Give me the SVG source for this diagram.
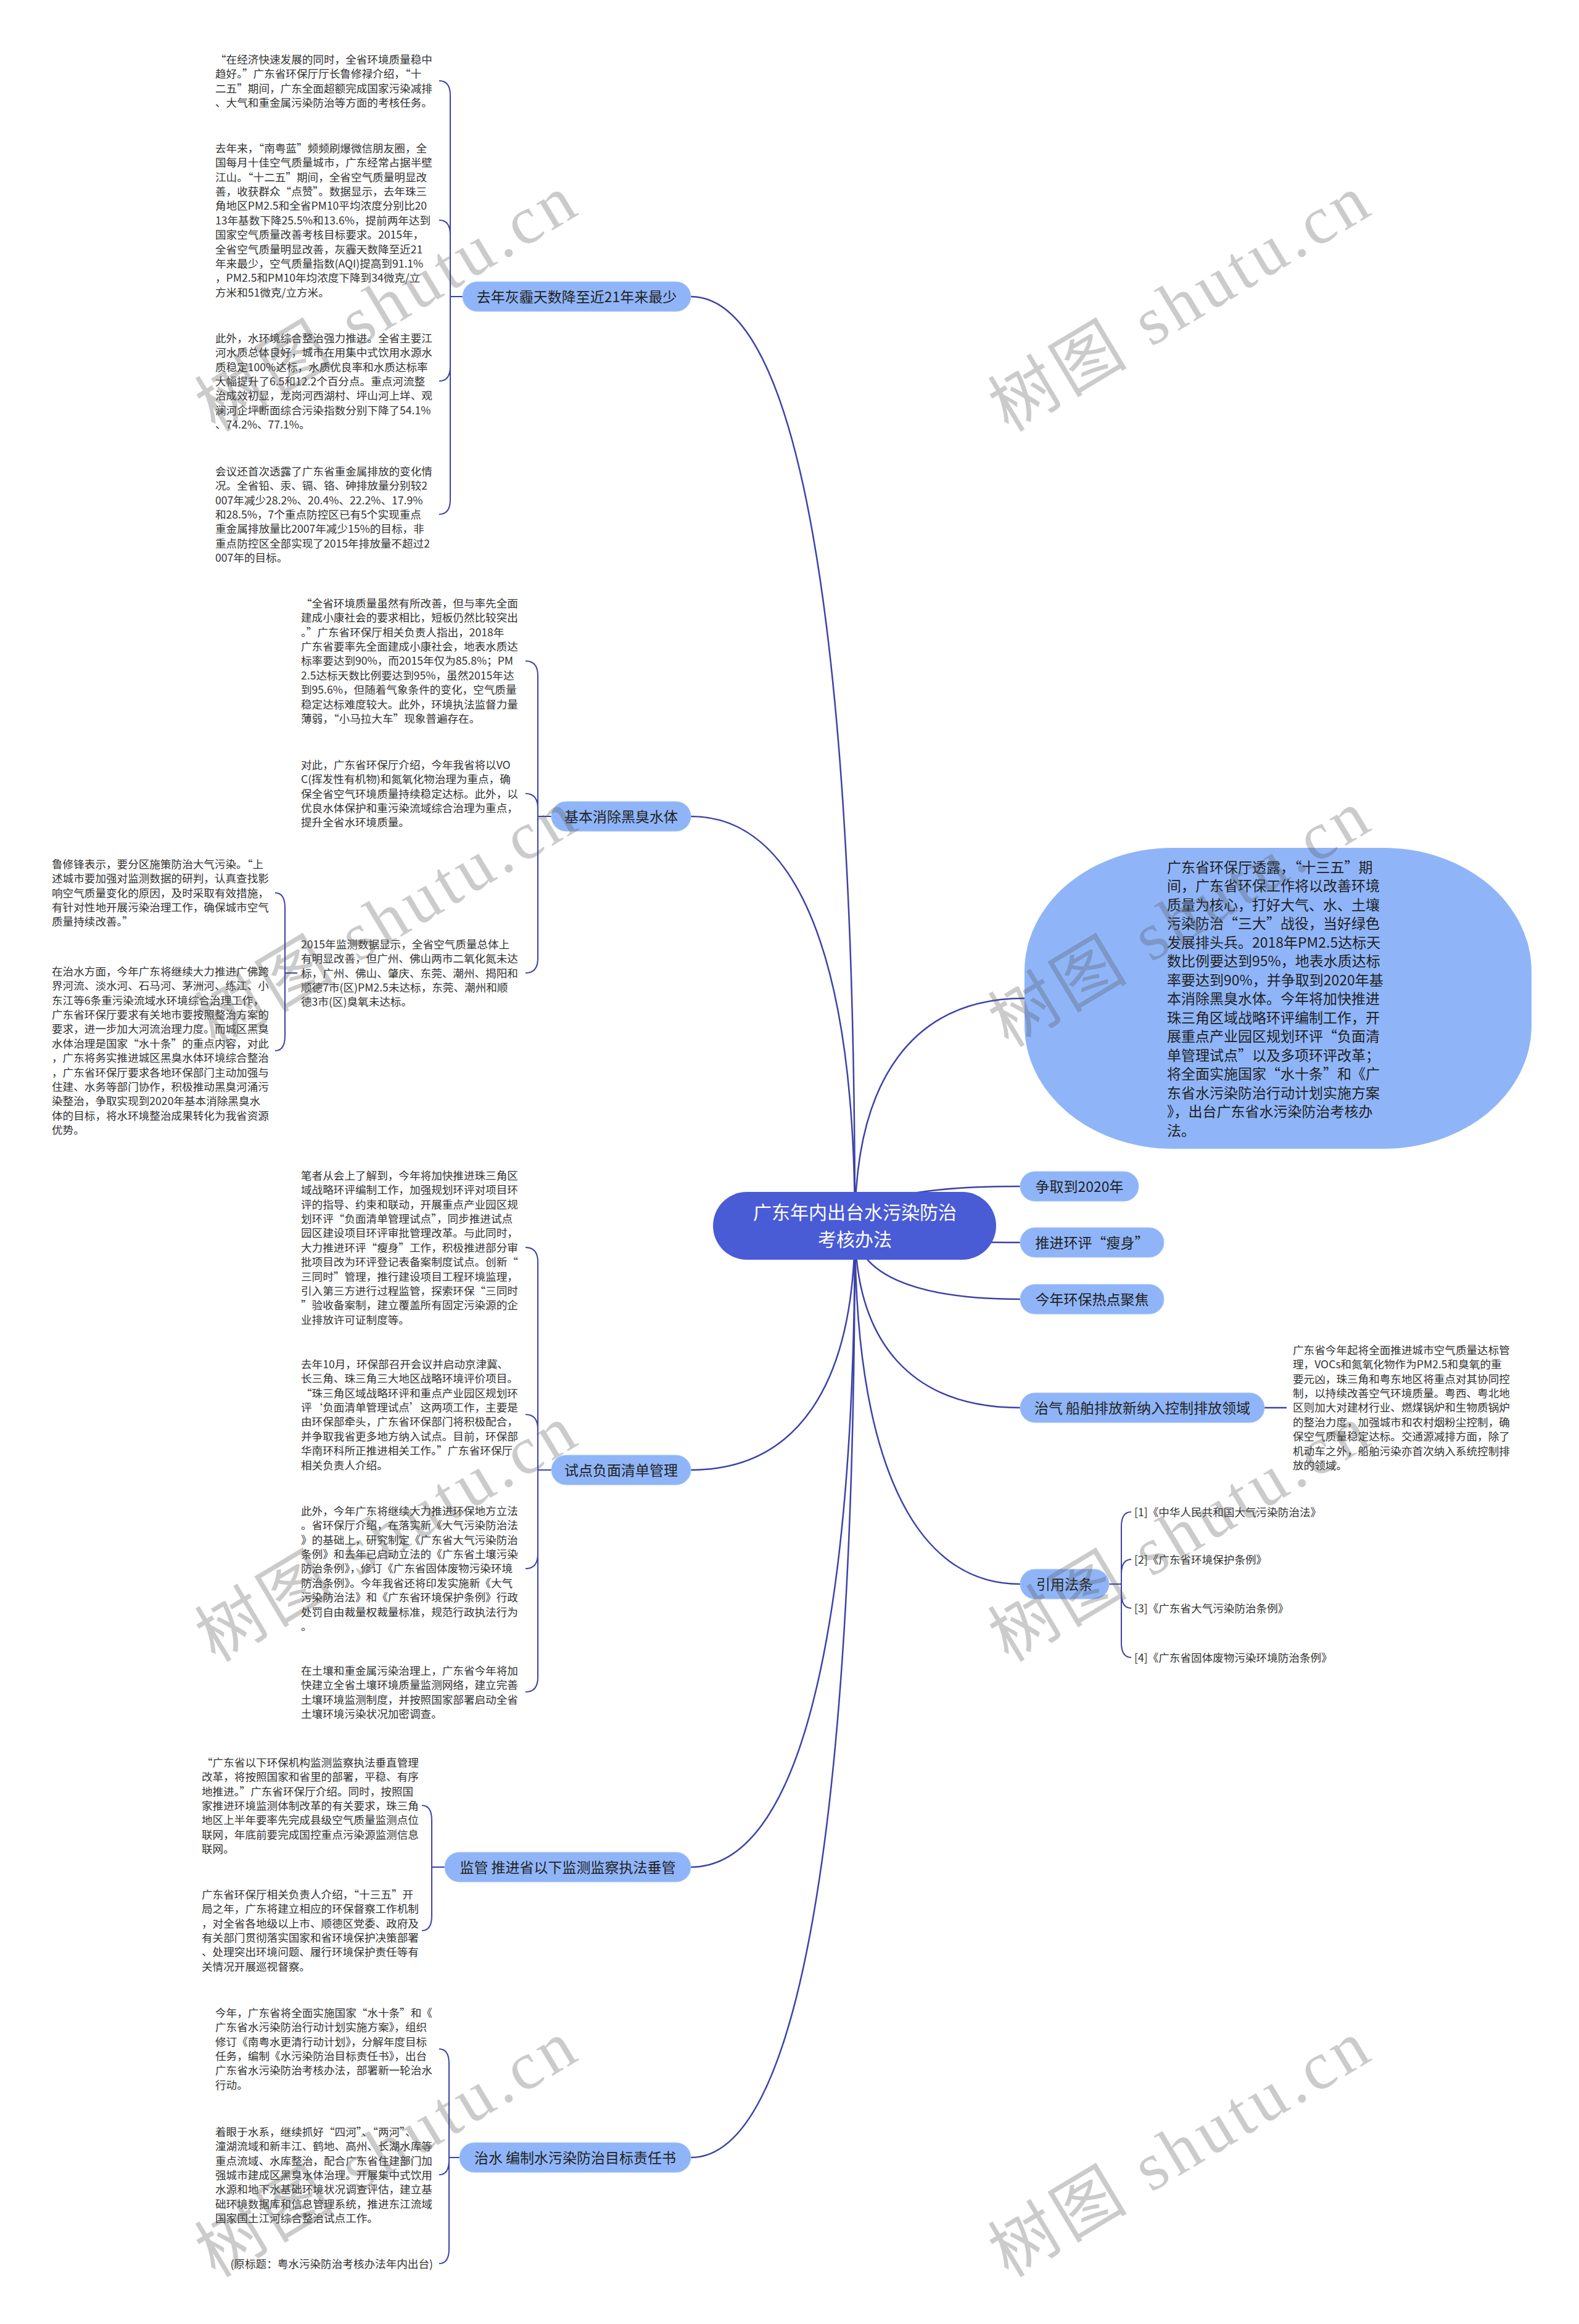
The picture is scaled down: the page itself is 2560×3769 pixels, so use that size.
<svg xmlns="http://www.w3.org/2000/svg" width="2560" height="3769" viewBox="0 0 2560 3769">
<style>
.p{font-family:"Noto Sans CJK SC","Liberation Sans",sans-serif;font-size:17.6px;fill:#333}
.n{font-family:"Noto Sans CJK SC","Liberation Sans",sans-serif;font-size:23px;fill:#222;text-anchor:middle}
.bn{fill:#8fb5f8;stroke:#a3c2fa;stroke-width:1}
.c{fill:none;stroke:#3c42a8;stroke-width:2.5}
.b{fill:none;stroke:#3c42a8;stroke-width:2}
.wm{font-family:"Liberation Serif","Noto Sans CJK SC",serif;font-size:110px;fill:#555;opacity:0.3}
</style>
<rect x="0" y="0" width="2560" height="3769" fill="#ffffff"/>
<g id="connectors">
<path class="c" d="M1386 1988 C1386 1008 1293 481 1120 481"/>
<path class="c" d="M1386 1988 C1386 1556 1293 1324 1120 1324"/>
<path class="c" d="M1386 1988 C1386 2245 1293 2384 1120 2384"/>
<path class="c" d="M1386 1988 C1386 2664 1293 3028 1120 3028"/>
<path class="c" d="M1386 1988 C1386 2970 1293 3499 1120 3499"/>
<path class="c" d="M1386 1988 C1386 1748 1482 1619 1661 1619"/>
<path class="c" d="M1386 1988 C1386 1946 1480 1924 1654 1924"/>
<path class="c" d="M1386 1988 C1386 2006 1480 2015 1654 2015"/>
<path class="c" d="M1386 1988 C1386 2065 1480 2107 1654 2107"/>
<path class="c" d="M1386 1988 C1386 2180 1480 2283 1654 2283"/>
<path class="c" d="M1386 1988 C1386 2366 1480 2569 1654 2569"/>
<path class="b" d="M750 481 H730 V155 Q730 131 712 131 M730 481 V381 Q730 357 712 357 M730 481 V594 Q730 618 712 618 M730 481 V810 Q730 834 712 834"/>
<path class="b" d="M894 1324 H872 V1096 Q872 1072 852 1072 M872 1324 V1311 Q872 1287 852 1287 M872 1324 V1554 Q872 1578 852 1578"/>
<path class="b" d="M482 1578 H462 V1472 Q462 1448 446 1448 M462 1578 V1680 Q462 1704 446 1704"/>
<path class="b" d="M894 2384 H872 V2047 Q872 2023 852 2023 M872 2384 V2318 Q872 2294 852 2294 M872 2384 V2520 Q872 2544 852 2544 M872 2384 V2720 Q872 2744 852 2744"/>
<path class="b" d="M721 3028 H700 V2952 Q700 2928 684 2928 M700 3028 V3107 Q700 3131 684 3131"/>
<path class="b" d="M745 3499 H728 V3347 Q728 3323 712 3323 M728 3499 V3503 Q728 3527 712 3527 M728 3499 V3647 Q728 3671 712 3671"/>
<path class="b" d="M1798 2569 H1818 V2476 Q1818 2452 1834 2452 M1818 2569 V2553 Q1818 2529 1834 2529 M1818 2569 V2584 Q1818 2608 1834 2608 M1818 2569 V2664 Q1818 2688 1834 2688"/>
<path class="c" d="M2050 2283 H2086"/>
</g>
<g id="center">
<rect x="1156" y="1933" width="459" height="110" rx="55" fill="#4a5bd6"/>
<text font-family="Noto Sans CJK SC, sans-serif" font-size="30" fill="#ffffff" text-anchor="middle"><tspan x="1386" y="1977">广东年内出台水污染防治</tspan><tspan x="1386" y="2021">考核办法</tspan></text>
</g>
<g id="b1">
<rect class="bn" x="750" y="457" width="370" height="48" rx="24"/>
<text class="n" x="935" y="490">去年灰霾天数降至近21年来最少</text>
</g>
<g id="b1p1"><text class="p"><tspan x="349" y="102.7">“在经济快速发展的同时，全省环境质量稳中</tspan><tspan x="349" y="126.1">趋好。”广东省环保厅厅长鲁修禄介绍，“十</tspan><tspan x="349" y="149.5">二五”期间，广东全面超额完成国家污染减排</tspan><tspan x="349" y="172.9">、大气和重金属污染防治等方面的考核任务。</tspan></text></g>
<g id="b1p2"><text class="p"><tspan x="349" y="246.7">去年来，“南粤蓝”频频刷爆微信朋友圈，全</tspan><tspan x="349" y="270.1">国每月十佳空气质量城市，广东经常占据半壁</tspan><tspan x="349" y="293.5">江山。“十二五”期间，全省空气质量明显改</tspan><tspan x="349" y="316.9">善，收获群众“点赞”。数据显示，去年珠三</tspan><tspan x="349" y="340.3">角地区PM2.5和全省PM10平均浓度分别比20</tspan><tspan x="349" y="363.7">13年基数下降25.5%和13.6%，提前两年达到</tspan><tspan x="349" y="387.1">国家空气质量改善考核目标要求。2015年，</tspan><tspan x="349" y="410.5">全省空气质量明显改善，灰霾天数降至近21</tspan><tspan x="349" y="433.9">年来最少，空气质量指数(AQI)提高到91.1%</tspan><tspan x="349" y="457.3">，PM2.5和PM10年均浓度下降到34微克/立</tspan><tspan x="349" y="480.7">方米和51微克/立方米。</tspan></text></g>
<g id="b1p3"><text class="p"><tspan x="349" y="554.7">此外，水环境综合整治强力推进。全省主要江</tspan><tspan x="349" y="578.1">河水质总体良好，城市在用集中式饮用水源水</tspan><tspan x="349" y="601.5">质稳定100%达标，水质优良率和水质达标率</tspan><tspan x="349" y="624.9">大幅提升了6.5和12.2个百分点。重点河流整</tspan><tspan x="349" y="648.3">治成效初显，龙岗河西湖村、坪山河上垟、观</tspan><tspan x="349" y="671.7">澜河企坪断面综合污染指数分别下降了54.1%</tspan><tspan x="349" y="695.1">、74.2%、77.1%。</tspan></text></g>
<g id="b1p4"><text class="p"><tspan x="349" y="770.7">会议还首次透露了广东省重金属排放的变化情</tspan><tspan x="349" y="794.1">况。全省铅、汞、镉、铬、砷排放量分别较2</tspan><tspan x="349" y="817.5">007年减少28.2%、20.4%、22.2%、17.9%</tspan><tspan x="349" y="840.9">和28.5%，7个重点防控区已有5个实现重点</tspan><tspan x="349" y="864.3">重金属排放量比2007年减少15%的目标，非</tspan><tspan x="349" y="887.7">重点防控区全部实现了2015年排放量不超过2</tspan><tspan x="349" y="911.1">007年的目标。</tspan></text></g>
<g id="b2">
<rect class="bn" x="894" y="1300" width="226" height="48" rx="24"/>
<text class="n" x="1007" y="1333">基本消除黑臭水体</text>
</g>
<g id="b2p1"><text class="p"><tspan x="488" y="984.7">“全省环境质量虽然有所改善，但与率先全面</tspan><tspan x="488" y="1008.1">建成小康社会的要求相比，短板仍然比较突出</tspan><tspan x="488" y="1031.5">。”广东省环保厅相关负责人指出，2018年</tspan><tspan x="488" y="1054.9">广东省要率先全面建成小康社会，地表水质达</tspan><tspan x="488" y="1078.3">标率要达到90%，而2015年仅为85.8%；PM</tspan><tspan x="488" y="1101.7">2.5达标天数比例要达到95%，虽然2015年达</tspan><tspan x="488" y="1125.1">到95.6%，但随着气象条件的变化，空气质量</tspan><tspan x="488" y="1148.5">稳定达标难度较大。此外，环境执法监督力量</tspan><tspan x="488" y="1171.9">薄弱，“小马拉大车”现象普遍存在。</tspan></text></g>
<g id="b2p2"><text class="p"><tspan x="488" y="1246.7">对此，广东省环保厅介绍，今年我省将以VO</tspan><tspan x="488" y="1270.1">C(挥发性有机物)和氮氧化物治理为重点，确</tspan><tspan x="488" y="1293.5">保全省空气环境质量持续稳定达标。此外，以</tspan><tspan x="488" y="1316.9">优良水体保护和重污染流域综合治理为重点，</tspan><tspan x="488" y="1340.3">提升全省水环境质量。</tspan></text></g>
<g id="b2p3"><text class="p"><tspan x="488" y="1537.7">2015年监测数据显示，全省空气质量总体上</tspan><tspan x="488" y="1561.1">有明显改善，但广州、佛山两市二氧化氮未达</tspan><tspan x="488" y="1584.5">标，广州、佛山、肇庆、东莞、潮州、揭阳和</tspan><tspan x="488" y="1607.9">顺德7市(区)PM2.5未达标，东莞、潮州和顺</tspan><tspan x="488" y="1631.3">德3市(区)臭氧未达标。</tspan></text></g>
<g id="b2p3a"><text class="p"><tspan x="84" y="1407.7">鲁修锋表示，要分区施策防治大气污染。“上</tspan><tspan x="84" y="1431.1">述城市要加强对监测数据的研判，认真查找影</tspan><tspan x="84" y="1454.5">响空气质量变化的原因，及时采取有效措施，</tspan><tspan x="84" y="1477.9">有针对性地开展污染治理工作，确保城市空气</tspan><tspan x="84" y="1501.3">质量持续改善。”</tspan></text></g>
<g id="b2p3b"><text class="p"><tspan x="84" y="1581.7">在治水方面，今年广东将继续大力推进广佛跨</tspan><tspan x="84" y="1605.1">界河流、淡水河、石马河、茅洲河、练江、小</tspan><tspan x="84" y="1628.5">东江等6条重污染流域水环境综合治理工作，</tspan><tspan x="84" y="1651.9">广东省环保厅要求有关地市要按照整治方案的</tspan><tspan x="84" y="1675.3">要求，进一步加大河流治理力度。而城区黑臭</tspan><tspan x="84" y="1698.7">水体治理是国家“水十条”的重点内容，对此</tspan><tspan x="84" y="1722.1">，广东将务实推进城区黑臭水体环境综合整治</tspan><tspan x="84" y="1745.5">，广东省环保厅要求各地环保部门主动加强与</tspan><tspan x="84" y="1768.9">住建、水务等部门协作，积极推动黑臭河涌污</tspan><tspan x="84" y="1792.3">染整治，争取实现到2020年基本消除黑臭水</tspan><tspan x="84" y="1815.7">体的目标，将水环境整治成果转化为我省资源</tspan><tspan x="84" y="1839.1">优势。</tspan></text></g>
<g id="b3">
<rect class="bn" x="894" y="2360" width="226" height="48" rx="24"/>
<text class="n" x="1007" y="2393">试点负面清单管理</text>
</g>
<g id="b3p1"><text class="p"><tspan x="488" y="1912.7">笔者从会上了解到，今年将加快推进珠三角区</tspan><tspan x="488" y="1936.1">域战略环评编制工作，加强规划环评对项目环</tspan><tspan x="488" y="1959.5">评的指导、约束和联动，开展重点产业园区规</tspan><tspan x="488" y="1982.9">划环评“负面清单管理试点”，同步推进试点</tspan><tspan x="488" y="2006.3">园区建设项目环评审批管理改革。与此同时，</tspan><tspan x="488" y="2029.7">大力推进环评“瘦身”工作，积极推进部分审</tspan><tspan x="488" y="2053.1">批项目改为环评登记表备案制度试点。创新“</tspan><tspan x="488" y="2076.5">三同时”管理，推行建设项目工程环境监理，</tspan><tspan x="488" y="2099.9">引入第三方进行过程监管，探索环保“三同时</tspan><tspan x="488" y="2123.3">”验收备案制，建立覆盖所有固定污染源的企</tspan><tspan x="488" y="2146.7">业排放许可证制度等。</tspan></text></g>
<g id="b3p2"><text class="p"><tspan x="488" y="2218.7">去年10月，环保部召开会议并启动京津冀、</tspan><tspan x="488" y="2242.1">长三角、珠三角三大地区战略环境评价项目。</tspan><tspan x="488" y="2265.5">“珠三角区域战略环评和重点产业园区规划环</tspan><tspan x="488" y="2288.9">评‘负面清单管理试点’这两项工作，主要是</tspan><tspan x="488" y="2312.3">由环保部牵头，广东省环保部门将积极配合，</tspan><tspan x="488" y="2335.7">并争取我省更多地方纳入试点。目前，环保部</tspan><tspan x="488" y="2359.1">华南环科所正推进相关工作。”广东省环保厅</tspan><tspan x="488" y="2382.5">相关负责人介绍。</tspan></text></g>
<g id="b3p3"><text class="p"><tspan x="488" y="2456.7">此外，今年广东将继续大力推进环保地方立法</tspan><tspan x="488" y="2480.1">。省环保厅介绍，在落实新《大气污染防治法</tspan><tspan x="488" y="2503.5">》的基础上，研究制定《广东省大气污染防治</tspan><tspan x="488" y="2526.9">条例》和去年已启动立法的《广东省土壤污染</tspan><tspan x="488" y="2550.3">防治条例》，修订《广东省固体废物污染环境</tspan><tspan x="488" y="2573.7">防治条例》。今年我省还将印发实施新《大气</tspan><tspan x="488" y="2597.1">污染防治法》和《广东省环境保护条例》行政</tspan><tspan x="488" y="2620.5">处罚自由裁量权裁量标准，规范行政执法行为</tspan><tspan x="488" y="2643.9">。</tspan></text></g>
<g id="b3p4"><text class="p"><tspan x="488" y="2715.7">在土壤和重金属污染治理上，广东省今年将加</tspan><tspan x="488" y="2739.1">快建立全省土壤环境质量监测网络，建立完善</tspan><tspan x="488" y="2762.5">土壤环境监测制度，并按照国家部署启动全省</tspan><tspan x="488" y="2785.9">土壤环境污染状况加密调查。</tspan></text></g>
<g id="b4">
<rect class="bn" x="721" y="3004" width="399" height="48" rx="24"/>
<text class="n" x="920.5" y="3037">监管 推进省以下监测监察执法垂管</text>
</g>
<g id="b4p1"><text class="p"><tspan x="327" y="2864.7">“广东省以下环保机构监测监察执法垂直管理</tspan><tspan x="327" y="2888.1">改革，将按照国家和省里的部署，平稳、有序</tspan><tspan x="327" y="2911.5">地推进。”广东省环保厅介绍。同时，按照国</tspan><tspan x="327" y="2934.9">家推进环境监测体制改革的有关要求，珠三角</tspan><tspan x="327" y="2958.3">地区上半年要率先完成县级空气质量监测点位</tspan><tspan x="327" y="2981.7">联网，年底前要完成国控重点污染源监测信息</tspan><tspan x="327" y="3005.1">联网。</tspan></text></g>
<g id="b4p2"><text class="p"><tspan x="327" y="3078.7">广东省环保厅相关负责人介绍，“十三五”开</tspan><tspan x="327" y="3102.1">局之年，广东将建立相应的环保督察工作机制</tspan><tspan x="327" y="3125.5">，对全省各地级以上市、顺德区党委、政府及</tspan><tspan x="327" y="3148.9">有关部门贯彻落实国家和省环境保护决策部署</tspan><tspan x="327" y="3172.3">、处理突出环境问题、履行环境保护责任等有</tspan><tspan x="327" y="3195.7">关情况开展巡视督察。</tspan></text></g>
<g id="b5">
<rect class="bn" x="745" y="3475" width="375" height="48" rx="24"/>
<text class="n" x="932.5" y="3508">治水 编制水污染防治目标责任书</text>
</g>
<g id="b5p1"><text class="p"><tspan x="349" y="3270.7">今年，广东省将全面实施国家“水十条”和《</tspan><tspan x="349" y="3294.1">广东省水污染防治行动计划实施方案》，组织</tspan><tspan x="349" y="3317.5">修订《南粤水更清行动计划》，分解年度目标</tspan><tspan x="349" y="3340.9">任务，编制《水污染防治目标责任书》，出台</tspan><tspan x="349" y="3364.3">广东省水污染防治考核办法，部署新一轮治水</tspan><tspan x="349" y="3387.7">行动。</tspan></text></g>
<g id="b5p2"><text class="p"><tspan x="349" y="3463.7">着眼于水系，继续抓好“四河”、“两河”、</tspan><tspan x="349" y="3487.1">潼湖流域和新丰江、鹤地、高州、长湖水库等</tspan><tspan x="349" y="3510.5">重点流域、水库整治，配合广东省住建部门加</tspan><tspan x="349" y="3533.9">强城市建成区黑臭水体治理。开展集中式饮用</tspan><tspan x="349" y="3557.3">水源和地下水基础环境状况调查评估，建立基</tspan><tspan x="349" y="3580.7">础环境数据库和信息管理系统，推进东江流域</tspan><tspan x="349" y="3604.1">国家国土江河综合整治试点工作。</tspan></text></g>
<g id="b5p3"><text class="p" x="702" y="3677.7" text-anchor="end">(原标题：粤水污染防治考核办法年内出台)</text></g>
<g id="r1">
<rect x="1661" y="1375" width="822" height="488" rx="240" ry="200" fill="#8fb5f8"/>
<text font-family="Noto Sans CJK SC, sans-serif" font-size="23" fill="#222"><tspan x="1892" y="1414.7">广东省环保厅透露，“十三五”期</tspan><tspan x="1892" y="1445.2">间，广东省环保工作将以改善环境</tspan><tspan x="1892" y="1475.7">质量为核心，打好大气、水、土壤</tspan><tspan x="1892" y="1506.2">污染防治“三大”战役，当好绿色</tspan><tspan x="1892" y="1536.7">发展排头兵。2018年PM2.5达标天</tspan><tspan x="1892" y="1567.2">数比例要达到95%，地表水质达标</tspan><tspan x="1892" y="1597.7">率要达到90%，并争取到2020年基</tspan><tspan x="1892" y="1628.2">本消除黑臭水体。今年将加快推进</tspan><tspan x="1892" y="1658.7">珠三角区域战略环评编制工作，开</tspan><tspan x="1892" y="1689.2">展重点产业园区规划环评“负面清</tspan><tspan x="1892" y="1719.7">单管理试点”以及多项环评改革；</tspan><tspan x="1892" y="1750.2">将全面实施国家“水十条”和《广</tspan><tspan x="1892" y="1780.7">东省水污染防治行动计划实施方案</tspan><tspan x="1892" y="1811.2">》，出台广东省水污染防治考核办</tspan><tspan x="1892" y="1841.7">法。</tspan></text>
</g>
<g id="r2">
<rect class="bn" x="1654" y="1900" width="192" height="48" rx="24"/>
<text class="n" x="1750" y="1933">争取到2020年</text>
</g>
<g id="r3">
<rect class="bn" x="1654" y="1991" width="233" height="48" rx="24"/>
<text class="n" x="1770.5" y="2024">推进环评“瘦身”</text>
</g>
<g id="r4">
<rect class="bn" x="1654" y="2083" width="233" height="48" rx="24"/>
<text class="n" x="1770.5" y="2116">今年环保热点聚焦</text>
</g>
<g id="r5">
<rect class="bn" x="1654" y="2259" width="396" height="48" rx="24"/>
<text class="n" x="1852" y="2292">治气 船舶排放新纳入控制排放领域</text>
</g>
<g id="r5p1"><text class="p"><tspan x="2096" y="2195.7">广东省今年起将全面推进城市空气质量达标管</tspan><tspan x="2096" y="2219.1">理，VOCs和氮氧化物作为PM2.5和臭氧的重</tspan><tspan x="2096" y="2242.5">要元凶，珠三角和粤东地区将重点对其协同控</tspan><tspan x="2096" y="2265.9">制，以持续改善空气环境质量。粤西、粤北地</tspan><tspan x="2096" y="2289.3">区则加大对建材行业、燃煤锅炉和生物质锅炉</tspan><tspan x="2096" y="2312.7">的整治力度，加强城市和农村烟粉尘控制，确</tspan><tspan x="2096" y="2336.1">保空气质量稳定达标。交通源减排方面，除了</tspan><tspan x="2096" y="2359.5">机动车之外，船舶污染亦首次纳入系统控制排</tspan><tspan x="2096" y="2382.9">放的领域。</tspan></text></g>
<g id="r6">
<rect class="bn" x="1654" y="2545" width="144" height="48" rx="24"/>
<text class="n" x="1726" y="2578">引用法条</text>
</g>
<g id="r6c1"><text class="p" x="1839" y="2458.7">[1]《中华人民共和国大气污染防治法》</text></g>
<g id="r6c2"><text class="p" x="1839" y="2535.7">[2]《广东省环境保护条例》</text></g>
<g id="r6c3"><text class="p" x="1839" y="2614.7">[3]《广东省大气污染防治条例》</text></g>
<g id="r6c4"><text class="p" x="1839" y="2694.7">[4]《广东省固体废物污染环境防治条例》</text></g>
<g id="watermarks">
<text class="wm" transform="translate(349 702) rotate(-31)" textLength="690" lengthAdjust="spacing">树图 shutu.cn</text>
<text class="wm" transform="translate(1635 702) rotate(-31)" textLength="690" lengthAdjust="spacing">树图 shutu.cn</text>
<text class="wm" transform="translate(349 1700) rotate(-31)" textLength="690" lengthAdjust="spacing">树图 shutu.cn</text>
<text class="wm" transform="translate(1635 1700) rotate(-31)" textLength="690" lengthAdjust="spacing">树图 shutu.cn</text>
<text class="wm" transform="translate(349 2697) rotate(-31)" textLength="690" lengthAdjust="spacing">树图 shutu.cn</text>
<text class="wm" transform="translate(1635 2697) rotate(-31)" textLength="690" lengthAdjust="spacing">树图 shutu.cn</text>
<text class="wm" transform="translate(349 3695) rotate(-31)" textLength="690" lengthAdjust="spacing">树图 shutu.cn</text>
<text class="wm" transform="translate(1635 3695) rotate(-31)" textLength="690" lengthAdjust="spacing">树图 shutu.cn</text>
</g>
</svg>
